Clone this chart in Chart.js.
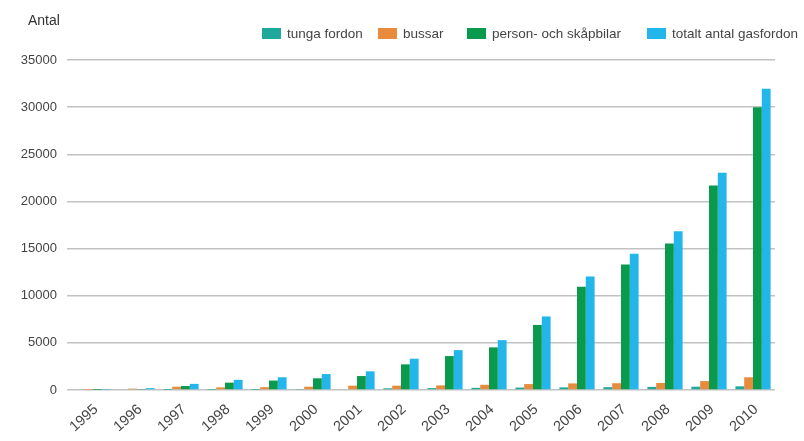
<!DOCTYPE html>
<html>
<head>
<meta charset="utf-8">
<script src="https://cdn.jsdelivr.net/npm/chart.js@4.4.1/dist/chart.umd.min.js"></script>
<style>
  html, body { margin: 0; padding: 0; background: #fff; }
  #gas_chart { display: block; }
</style>
</head>
<body>
<canvas id="gas_chart" width="804" height="441"></canvas>
<script>
const years = ["1995", "1996", "1997", "1998", "1999", "2000", "2001", "2002",
  "2003", "2004", "2005", "2006", "2007", "2008", "2009", "2010"];
const tungaFordon = [0, 0, 10, 20, 20, 50, 80, 180, 200, 230, 260, 280, 300, 330, 350, 390];
const bussar = [20, 150, 350, 280, 300, 350, 460, 460, 490, 555, 630, 700, 720, 750, 950, 1350];
const personSkapbilar = [10, 50, 420, 780, 1000, 1240, 1480, 2720, 3600, 4520, 6900, 10950, 13300, 15550, 21700, 30000];
const totaltGasfordon = [30, 200, 650, 1080, 1350, 1690, 1980, 3320, 4230, 5290, 7800, 12050, 14450, 16850, 23050, 31950];
const yTicks = [0, 5000, 10000, 15000, 20000, 25000, 30000, 35000];

const labelFont = "'Liberation Sans', Arial, sans-serif";

// legend slots along the top row, one per dataset
const legendX = [262, 378, 467, 647];

const topLegend = {
  id: "topLegend",
  afterDraw(chart) {
    const c = chart.ctx;
    c.save();
    c.fillStyle = "#333";
    c.font = "14px " + labelFont;
    c.textBaseline = "alphabetic";
    c.textAlign = "left";
    c.fillText("Antal", 28, 25);

    c.font = "13.5px " + labelFont;
    c.textBaseline = "middle";
    chart.data.datasets.forEach((ds, i) => {
      const x = legendX[i];
      c.fillStyle = ds.backgroundColor;
      c.fillRect(x, 28, 19, 11);
      c.fillStyle = "#444";
      c.fillText(ds.label, x + 25, 34);
    });
    c.restore();
  },
};

const ctx = document.getElementById("gas_chart").getContext("2d");

new Chart(ctx, {
  type: "bar",
  data: {
    labels: years,
    datasets: [
      { label: "tunga fordon", data: tungaFordon, backgroundColor: "#1fa99b" },
      { label: "bussar", data: bussar, backgroundColor: "#e98b3d" },
      { label: "person- och skåpbilar", data: personSkapbilar, backgroundColor: "#0a9a4e" },
      { label: "totalt antal gasfordon", data: totaltGasfordon, backgroundColor: "#22b6eb" },
    ],
  },
  options: {
    responsive: false,
    animation: false,
    layout: { padding: { top: 60, right: 29, left: 0, bottom: 0 } },
    datasets: {
      bar: { categoryPercentage: 0.8, barPercentage: 1.0, borderWidth: 0 },
    },
    plugins: {
      legend: { display: false },
      tooltip: { enabled: false },
    },
    scales: {
      x: {
        grid: { display: false },
        border: { display: false },
        ticks: {
          color: "#444",
          font: { family: labelFont, size: 14.5 },
          minRotation: 42,
          maxRotation: 42,
          padding: 3,
          labelOffset: 3,
        },
        afterFit(scale) {
          scale.height = 51;
        },
      },
      y: {
        min: 0,
        max: 35000,
        border: { display: false },
        grid: {
          color: "#c2c2c2",
          lineWidth: 1.5,
          drawTicks: true,
          tickLength: 4,
        },
        afterBuildTicks(scale) {
          scale.ticks = yTicks.map((v) => ({ value: v }));
        },
        ticks: {
          color: "#444",
          font: { family: labelFont, size: 13 },
          padding: 10,
          callback: (value) => String(value),
        },
        afterFit(scale) {
          scale.width = 71;
        },
      },
    },
  },
  plugins: [topLegend],
});
</script>
</body>
</html>
